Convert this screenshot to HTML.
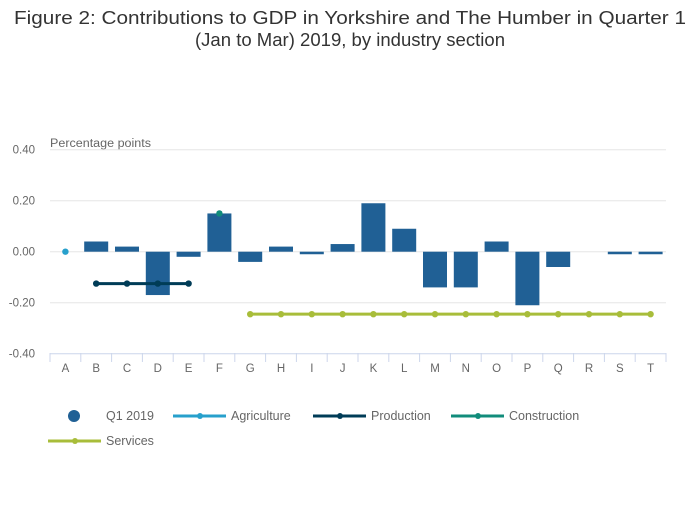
<!DOCTYPE html>
<html><head><meta charset="utf-8"><style>
body{margin:0;background:#fff;width:700px;height:502px;overflow:hidden;font-family:"Liberation Sans",sans-serif}
svg text{font-family:"Liberation Sans",sans-serif}
</style></head><body>
<svg id="chart" width="700" height="502">
<text x="350" y="24" text-anchor="middle" font-size="18" fill="#333" textLength="672" lengthAdjust="spacingAndGlyphs">Figure 2: Contributions to GDP in Yorkshire and The Humber in Quarter 1</text>
<text x="350" y="46" text-anchor="middle" font-size="18" fill="#333" textLength="310" lengthAdjust="spacingAndGlyphs">(Jan to Mar) 2019, by industry section</text>
<text x="50" y="147" font-size="11.5" fill="#666" textLength="101" lengthAdjust="spacingAndGlyphs">Percentage points</text>
<g id="grid"></g><g id="bars"></g><g id="lines"></g><g id="xaxis"></g>
<g>
<circle cx="74" cy="416" r="6" fill="#206095"/>
<text x="106" y="420" font-size="12.5" fill="#666">Q1 2019</text>
<line x1="173" y1="416" x2="226" y2="416" stroke="#27a0cc" stroke-width="3"/><circle cx="200" cy="416" r="3" fill="#27a0cc"/>
<text x="231" y="420" font-size="12.5" fill="#666">Agriculture</text>
<line x1="313" y1="416" x2="366" y2="416" stroke="#003c57" stroke-width="3"/><circle cx="340" cy="416" r="3" fill="#003c57"/>
<text x="371" y="420" font-size="12.5" fill="#666">Production</text>
<line x1="451" y1="416" x2="504" y2="416" stroke="#118c7b" stroke-width="3"/><circle cx="478" cy="416" r="3" fill="#118c7b"/>
<text x="509" y="420" font-size="12.5" fill="#666">Construction</text>
<line x1="48" y1="441" x2="101" y2="441" stroke="#a8bd3a" stroke-width="3"/><circle cx="75" cy="441" r="3" fill="#a8bd3a"/>
<text x="106" y="445" font-size="12.5" fill="#666">Services</text>
</g>
</svg>
<script>
const categories=["A","B","C","D","E","F","G","H","I","J","K","L","M","N","O","P","Q","R","S","T"];
const q1Values=[null,0.04,0.02,-0.17,-0.02,0.15,-0.04,0.02,-0.01,0.03,0.19,0.09,-0.14,-0.14,0.04,-0.21,-0.06,0,-0.01,-0.01];
const agriculture=[0.00,null,null,null,null,null,null,null,null,null,null,null,null,null,null,null,null,null,null,null];
const production=[null,-0.125,-0.125,-0.125,-0.125,null,null,null,null,null,null,null,null,null,null,null,null,null,null,null];
const construction=[null,null,null,null,null,0.15,null,null,null,null,null,null,null,null,null,null,null,null,null,null];
const services=[null,null,null,null,null,null,-0.245,-0.245,-0.245,-0.245,-0.245,-0.245,-0.245,-0.245,-0.245,-0.245,-0.245,-0.245,-0.245,-0.245];
const yTicks=[0.4,0.2,0,-0.2,-0.4];
const yTickLabels=["0.40","0.20","0.00","-0.20","-0.40"];
const NS="http://www.w3.org/2000/svg";
const L=50,R=666,step=(R-L)/categories.length;
const y=v=>251.7-v*255;
const xc=i=>L+step*(i+0.5);
function mk(tag,at,p){const e=document.createElementNS(NS,tag);for(const k in at)e.setAttribute(k,at[k]);p.appendChild(e);return e;}
const grid=document.getElementById('grid');
yTicks.forEach((t,i)=>{
 const g=mk('line',{x1:L,x2:R,y1:y(t),y2:y(t),stroke:t===-0.4?'#ccd6eb':'#e6e6e6','stroke-width':1},grid);
 
 
 const tx=mk('text',{x:35,y:y(t)+4,'text-anchor':'end','font-size':11.5,fill:'#666'},grid);
 tx.textContent=yTickLabels[i];
 
 
});
const xa=document.getElementById('xaxis');
categories.forEach((c,i)=>{
 const tk=mk('line',{x1:L+step*i,x2:L+step*i,y1:353,y2:362,stroke:'#ccd6eb'},xa);
 
 
 const t=mk('text',{x:xc(i),y:372,'text-anchor':'middle','font-size':11.5,fill:'#666'},xa);
 t.textContent=c;
 
 
});
mk('line',{x1:R,x2:R,y1:353,y2:362,stroke:'#ccd6eb'},xa);
const bars=document.getElementById('bars');
q1Values.forEach((v,i)=>{
 if(v===null)return;
 const b=mk('rect',{x:xc(i)-12,width:24,y:Math.min(y(v),y(0)),height:Math.abs(y(v)-y(0)),fill:'#206095'},bars);
 
 
});
const lines=document.getElementById('lines');
function series(arr,col,name){
 const pts=[];arr.forEach((v,i)=>{if(v!==null)pts.push([xc(i),y(v)]);});
 if(pts.length>1){const p=mk('polyline',{points:pts.map(p=>p.join(',')).join(' '),fill:'none',stroke:col,'stroke-width':3},lines);
  
  }
 pts.forEach(p=>{const c=mk('circle',{cx:p[0],cy:p[1],r:3.2,fill:col},lines);
  
  });
}
series(agriculture,'#27a0cc','agriculture');
series(production,'#003c57','production');
series(construction,'#118c7b','construction');
series(services,'#a8bd3a','services');
</script>
</body></html>
